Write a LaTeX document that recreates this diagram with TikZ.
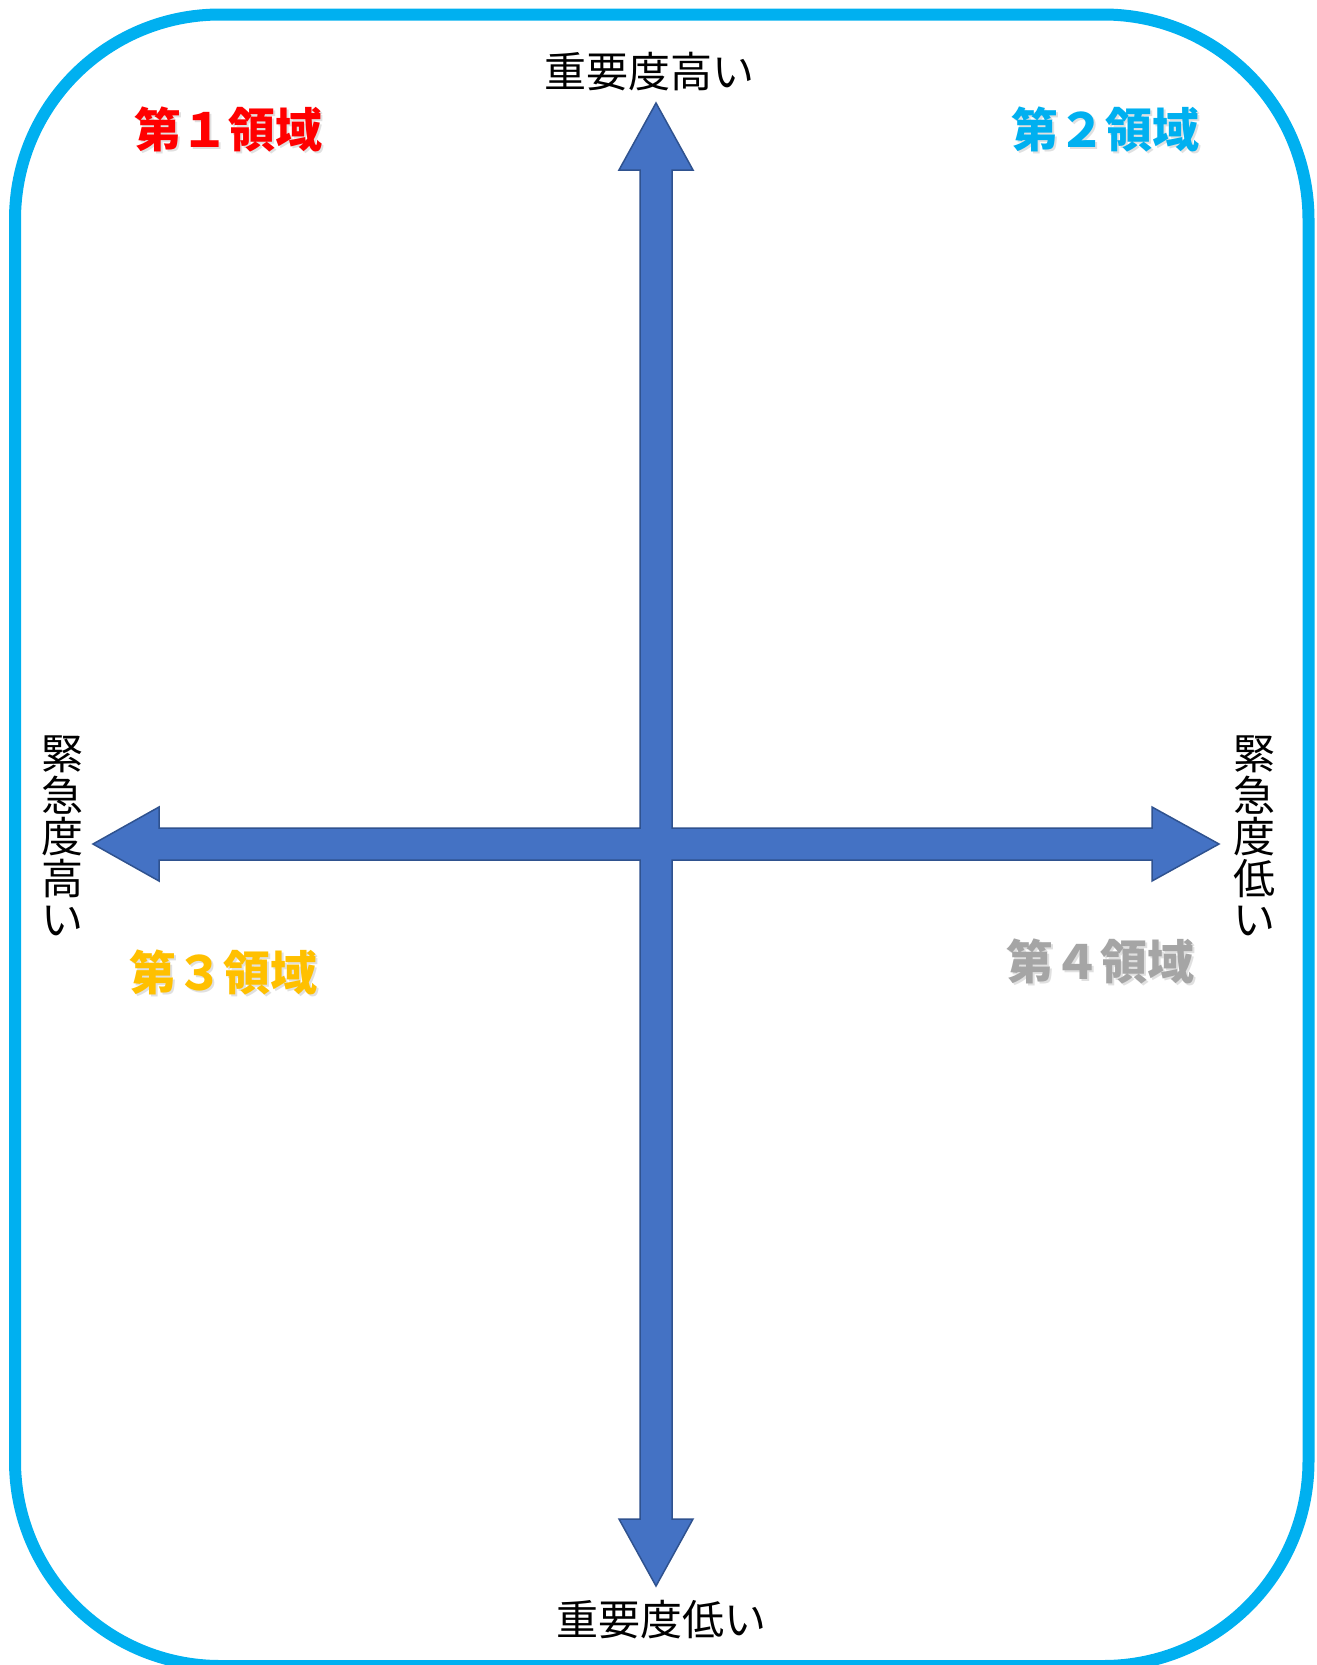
\documentclass[tikz,border=0pt]{standalone}
\usepackage{fontspec}
\setmainfont{Noto Sans CJK JP}
\definecolor{frameblue}{HTML}{00B0F0}
\definecolor{arrowfill}{HTML}{4472C4}
\definecolor{arrowline}{HTML}{2F528F}
\definecolor{qred}{HTML}{FF0000}
\definecolor{qblue}{HTML}{00B0F0}
\definecolor{qorange}{HTML}{FFC000}
\definecolor{qgray}{HTML}{A5A5A5}
\tikzset{
  axislabel/.style={inner sep=0pt, text=black, font=\fontsize{42}{41.5}\selectfont},
  vlabel/.style={axislabel, align=center},
  quad/.style={inner sep=0pt, font=\fontsize{47}{50}\selectfont\bfseries},
  quadshadow/.style={quad, text=black, text opacity=0.12},
}
\begin{document}
\begin{tikzpicture}[x=1pt,y=-1pt]
\useasboundingbox (0,0) rectangle (1317,1665);
% frame
\draw[line width=12pt, frameblue, rounded corners=205pt] (15,14.5) rectangle (1308.5,1666);
% four-way arrow
\coordinate (ctr) at (656,844);
\filldraw[fill=arrowfill, draw=arrowline, line width=1.5pt, line join=miter]
  (656,103) -- (693,170) -- (672,170) -- (672,828) -- (1152,828) -- (1152,807)
  -- (1219,844) -- (1152,881) -- (1152,860) -- (672,860) -- (672,1519)
  -- (693,1519) -- (656,1586) -- (619,1519) -- (640,1519) -- (640,860)
  -- (159,860) -- (159,881) -- (93,844) -- (159,807) -- (159,828)
  -- (640,828) -- (640,170) -- (619,170) -- cycle;
% axis labels
\node[axislabel] (top) at (649,72) {重要度高い};
\node[axislabel] (bottom) at (661,1620) {重要度低い};
\node[vlabel] (left) at (62,836) {緊\\急\\度\\高\\い};
\node[vlabel] (right) at (1254,836) {緊\\急\\度\\低\\い};
% quadrant labels (with soft shadow)
\node[quadshadow] (q1s) at (230,131) {第１領域};
\node[quad, text=qred] (q1) at (228,129) {第１領域};
\node[quadshadow] (q2s) at (1107,131) {第２領域};
\node[quad, text=qblue] (q2) at (1105,129) {第２領域};
\node[quadshadow] (q3s) at (225,974) {第３領域};
\node[quad, text=qorange] (q3) at (223,972) {第３領域};
\node[quadshadow] (q4s) at (1102,963) {第４領域};
\node[quad, text=qgray] (q4) at (1100,961) {第４領域};
\end{tikzpicture}
\end{document}
